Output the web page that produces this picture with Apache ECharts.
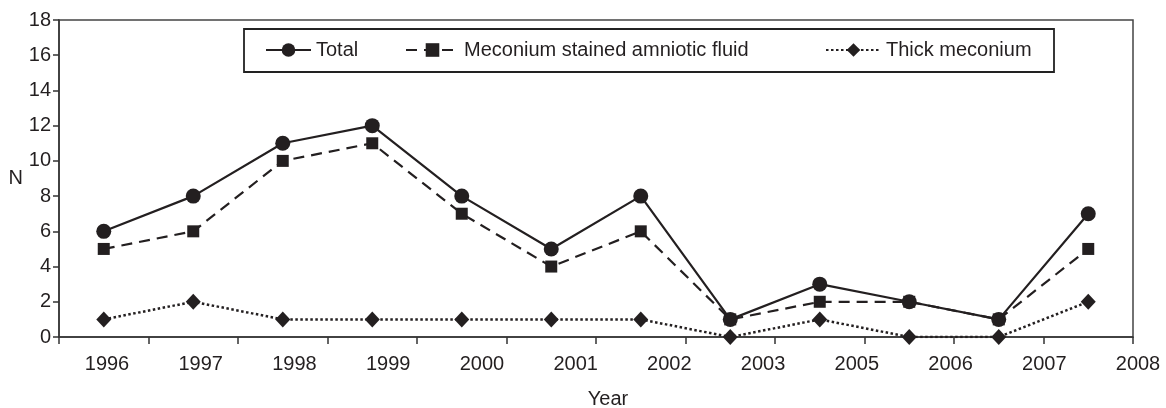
<!DOCTYPE html>
<html>
<head>
<meta charset="utf-8">
<script src="https://cdn.jsdelivr.net/npm/echarts@6/dist/echarts.min.js"></script>
<style>
    html, body { margin: 0; padding: 0; background: #fff; }
    #chart { width: 1166px; height: 408px; }
</style>
</head>
<body>
<div id="chart"></div>
<script>
    // year labels as printed on the x axis (2004 is skipped in the original)
    let years = ['1996', '1997', '1998', '1999', '2000', '2001', '2002', '2003', '2005', '2006', '2007', '2008'];
    let total = [6, 8, 11, 12, 8, 5, 8, 1, 3, 2, 1, 7];
    let stained = [5, 6, 10, 11, 7, 4, 6, 1, 2, 2, 1, 5];
    let thick = [1, 2, 1, 1, 1, 1, 1, 0, 1, 0, 0, 2];

    let ink = '#231f20';
    let font = 'Liberation Sans, Arial, sans-serif';

    let myChart = echarts.init(document.getElementById('chart'));

    let legendBase = {
        top: 40,
        padding: 0,
        itemHeight: 17,
        textStyle: { fontFamily: font, fontSize: 20, color: ink }
    };

    let option = {
        animation: false,
        backgroundColor: '#fff',
        grid: [
            {
                left: 59, top: 20, right: 33, bottom: 71,
                outerBoundsMode: 'none',
                show: true, borderColor: '#444', borderWidth: 1.5
            },
            // only used to place the year labels
            { left: 107, width: 1031, top: 20, bottom: 71, outerBoundsMode: 'none' }
        ],
        graphic: [
            {
                type: 'rect',
                shape: { x: 244, y: 29, width: 810, height: 43 },
                style: { fill: '#fff', stroke: '#222', lineWidth: 1.8 },
                z: 5
            }
        ],
        legend: [
            Object.assign({ left: 265, itemWidth: 45, data: ['Total'], z: 10 }, legendBase),
            Object.assign({ left: 405, itemWidth: 53, data: ['Meconium stained amniotic fluid'], z: 10 }, legendBase),
            Object.assign({ left: 825, itemWidth: 55, data: ['Thick meconium'], z: 10 }, legendBase)
        ],
        xAxis: [
            {
                type: 'category',
                gridIndex: 0,
                data: years,
                boundaryGap: true,
                name: 'Year',
                nameLocation: 'middle',
                nameGap: 52,
                nameTextStyle: { fontFamily: font, fontSize: 20, color: ink, padding: [0, 0, 0, 24] },
                axisLine: { lineStyle: { color: '#333', width: 1.5 } },
                axisTick: { show: true, length: 7, lineStyle: { color: '#333', width: 1.5 } },
                axisLabel: { show: false }
            },
            {
                type: 'category',
                gridIndex: 1,
                data: years,
                boundaryGap: false,
                axisLine: { show: false },
                axisTick: { show: false },
                axisLabel: {
                    margin: 17,
                    fontFamily: font,
                    fontSize: 20,
                    color: ink
                }
            }
        ],
        yAxis: [
            {
                type: 'value',
                gridIndex: 0,
                min: 0,
                max: 18,
                interval: 2,
                name: 'N',
                nameLocation: 'middle',
                nameRotate: 0,
                nameGap: 33,
                nameTextStyle: { fontFamily: font, fontSize: 20, color: ink, padding: [6, 0, 0, 0] },
                axisLine: { show: true, lineStyle: { color: '#333', width: 1.5 } },
                axisTick: { show: true, length: 6, lineStyle: { color: '#333', width: 1.5 } },
                axisLabel: { margin: 8, fontFamily: font, fontSize: 20, color: ink },
                splitLine: { show: false }
            },
            { type: 'value', gridIndex: 1, show: false, min: 0, max: 18 }
        ],
        series: [
            {
                name: 'Thick meconium',
                type: 'line',
                data: thick,
                symbol: 'diamond',
                symbolSize: [15, 16],
                itemStyle: { color: ink },
                lineStyle: { color: ink, width: 2.5, type: [2.5, 2.5] },
                z: 2
            },
            {
                name: 'Meconium stained amniotic fluid',
                type: 'line',
                data: stained,
                symbol: 'rect',
                symbolSize: 12,
                itemStyle: { color: ink },
                lineStyle: { color: ink, width: 2.2, type: [11, 7] },
                z: 3
            },
            {
                name: 'Total',
                type: 'line',
                data: total,
                symbol: 'circle',
                symbolSize: 15,
                itemStyle: { color: ink },
                lineStyle: { color: ink, width: 2.2 },
                z: 4
            }
        ]
    };

    myChart.setOption(option);
</script>
</body>
</html>
